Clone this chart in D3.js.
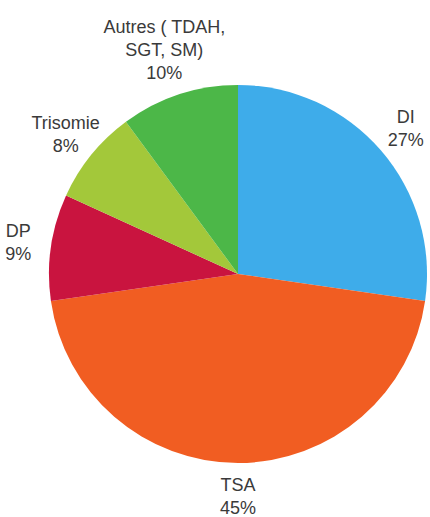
<!DOCTYPE html>
<meta charset="utf-8">
<script src="https://cdn.jsdelivr.net/npm/d3@7"></script>
<style>
  body { margin: 0; background: #fff; }
  text { font-family: "Liberation Sans", Arial, sans-serif; fill: #3a3a3a; }
</style>
<body>
<script>

// slices, clockwise from 12 o'clock
var categories = ["DI", "TSA", "DP", "Trisomie", "Autres ( TDAH,|SGT, SM)"];
var values = [27, 45, 9, 8, 10];
var colours = ["#3eacea", "#f15d22", "#c9143f", "#a3c83a", "#4cb748"];

var width = 430, height = 517,
    cx = 238, cy = 274,
    radius = 189,
    labelRadius = 222,
    lineHeight = 23;

var svg = d3.select("body").append("svg")
    .attr("width", width)
    .attr("height", height);

var g = svg.append("g")
    .attr("transform", "translate(" + cx + "," + cy + ")");

var data = categories.map(function(c, i) { return {name: c, value: values[i], colour: colours[i]}; });

var pie = d3.pie().sort(null).value(function(d) { return d.value; });
var arc = d3.arc().innerRadius(0).outerRadius(radius);

var arcs = pie(data);

g.selectAll("path.slice").data(arcs).enter().append("path")
    .attr("class", "slice")
    .attr("d", arc)
    .attr("fill", function(d) { return d.data.colour; });

// labels: name lines + percentage, centred on the mid angle
// taller labels get pushed out a bit so they clear the pie
var labels = g.selectAll("text.label").data(arcs).enter().append("text")
    .attr("class", "label")
    .attr("text-anchor", "middle")
    .attr("font-size", "18px");

labels.each(function(d) {
    var lines = d.data.name.split("|").concat([d.data.value + "%"]);
    var r = labelRadius + (lines.length - 2) * 14;
    var p = d3.arc().innerRadius(r).outerRadius(r).centroid(d);
    var t = d3.select(this).attr("transform", "translate(" + p[0] + "," + p[1] + ")");
    var y0 = -(lines.length - 1) * lineHeight / 2;
    lines.forEach(function(l, i) {
        t.append("tspan")
            .attr("x", 0)
            .attr("y", y0 + i * lineHeight)
            .attr("dy", "0.35em")
            .text(l);
    });
});

</script>
</body>
